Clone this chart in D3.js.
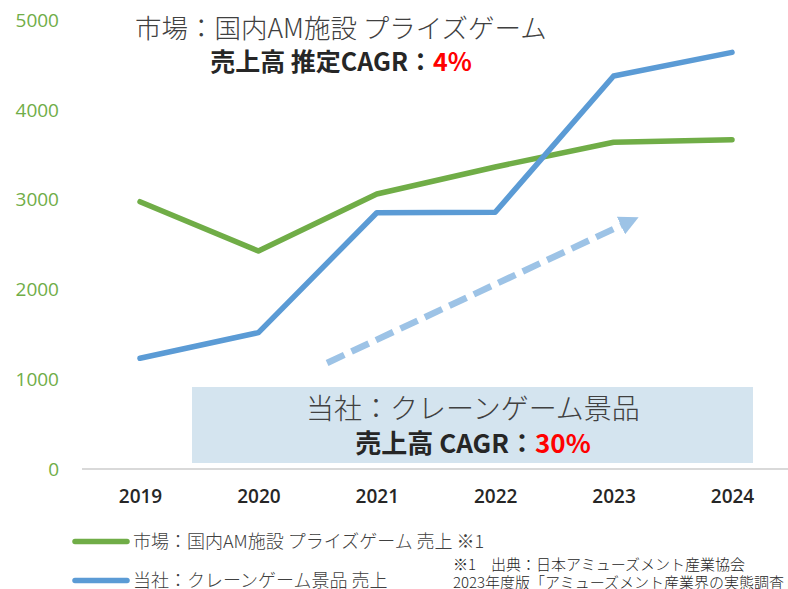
<!DOCTYPE html>
<html>
<head>
<meta charset="utf-8">
<script src="https://cdn.jsdelivr.net/npm/d3@7"></script>
<style>
  body { margin: 0; background: #fff; }
  svg { display: block; font-family: "Noto Sans CJK JP", "Noto Sans", sans-serif; }
</style>
</head>
<body>
<svg id="chart" width="788" height="589"></svg>
<script>
const years = ['2019', '2020', '2021', '2022', '2023', '2024'];
const marketSales = [2980, 2430, 3066, 3367, 3642, 3671];
const companySales = [1234, 1520, 2857, 2862, 4381, 4645];
const yTicks = [0, 1000, 2000, 3000, 4000, 5000];
// arrow annotation in (year index, value) units
const trendArrow = [[1.58, 1182], [4.2, 2798]];

const svg = d3.select('#chart');
const margin = { left: 81, top: 20.5 };
const yBottom = 469;

const x = d3.scalePoint().domain(years).range([140, 732]);
const xi = d3.scaleLinear().domain([0, years.length - 1]).range([140, 732]);
const y = d3.scaleLinear().domain([0, 5000]).range([yBottom, margin.top]);

// axis baseline
svg.append('line')
    .attr('x1', margin.left + 1).attr('x2', 788)
    .attr('y1', y(0)).attr('y2', y(0))
    .attr('stroke', '#d9d9d9').attr('stroke-width', 2);

// y labels
const yAxis = svg.append('g')
    .attr('transform', `translate(59, 0)`)
    .call(d3.axisLeft(y).tickValues(yTicks).tickSize(0).tickPadding(0).tickFormat(d3.format('d')));
yAxis.select('.domain').remove();
yAxis.selectAll('text')
    .attr('fill', '#70ad47')
    .attr('font-size', 19)
    .attr('font-family', '"Open Sans", sans-serif');

// x labels
const xAxis = svg.append('g')
    .attr('transform', `translate(0, ${y(0)})`)
    .call(d3.axisBottom(x).tickSize(0).tickPadding(21));
xAxis.select('.domain').remove();
xAxis.selectAll('text')
    .attr('fill', '#262626')
    .attr('font-size', 19)
    .attr('font-weight', 600)
    .attr('font-family', '"Open Sans", sans-serif');

// CAGR box
svg.append('rect')
    .attr('x', 192).attr('y', 387)
    .attr('width', 561).attr('height', 76)
    .attr('fill', '#d4e4ef');
svg.append('text')
    .attr('x', 473).attr('y', 419)
    .attr('text-anchor', 'middle')
    .attr('font-size', 28).attr('font-weight', 300)
    .attr('fill', '#404040')
    .text('当社：クレーンゲーム景品');
const boxLine2 = svg.append('text')
    .attr('x', 473).attr('y', 453)
    .attr('text-anchor', 'middle')
    .attr('font-size', 26).attr('font-weight', 700)
    .attr('fill', '#262626');
boxLine2.append('tspan').text('売上高 CAGR：');
boxLine2.append('tspan').attr('fill', '#ff0000').text('30%');

// title
svg.append('text')
    .attr('x', 135).attr('y', 38)
    .attr('font-size', 26.5).attr('font-weight', 300)
    .attr('fill', '#404040')
    .text('市場：国内AM施設 プライズゲーム');
const title2 = svg.append('text')
    .attr('x', 341).attr('y', 71)
    .attr('text-anchor', 'middle')
    .attr('font-size', 25).attr('font-weight', 700)
    .attr('fill', '#262626');
title2.append('tspan').text('売上高 推定CAGR：');
title2.append('tspan').attr('fill', '#ff0000').text('4%');

// dashed trend arrow
const defs = svg.append('defs');
defs.append('marker')
    .attr('id', 'arrowHead')
    .attr('viewBox', '0 0 10 10')
    .attr('refX', 3).attr('refY', 5)
    .attr('markerWidth', 3).attr('markerHeight', 3)
    .attr('orient', 'auto')
    .append('path')
    .attr('d', 'M0,0 L10,5 L0,10 Z')
    .attr('fill', '#9dc3e6');
svg.append('line')
    .attr('x1', xi(trendArrow[0][0])).attr('y1', y(trendArrow[0][1]))
    .attr('x2', xi(trendArrow[1][0]) - 11).attr('y2', y(trendArrow[1][1]) + 5)
    .attr('stroke', '#9dc3e6')
    .attr('stroke-width', 6.5)
    .attr('stroke-dasharray', '19 8')
    .attr('marker-end', 'url(#arrowHead)');

// lines
const line = d3.line()
    .x((d, i) => x(years[i]))
    .y(d => y(d));

svg.append('path')
    .datum(marketSales)
    .attr('d', line)
    .attr('fill', 'none')
    .attr('stroke', '#70ad47')
    .attr('stroke-width', 5.5)
    .attr('stroke-linecap', 'round')
    .attr('stroke-linejoin', 'round');

svg.append('path')
    .datum(companySales)
    .attr('d', line)
    .attr('fill', 'none')
    .attr('stroke', '#5b9bd5')
    .attr('stroke-width', 5.5)
    .attr('stroke-linecap', 'round')
    .attr('stroke-linejoin', 'round');

// legend
const legendItems = [
    { label: '市場：国内AM施設 プライズゲーム 売上 ※1', color: '#70ad47', y: 541.5 },
    { label: '当社：クレーンゲーム景品 売上', color: '#5b9bd5', y: 580.5 }
];
const legend = svg.append('g')
    .selectAll('g')
    .data(legendItems)
    .enter()
    .append('g')
    .attr('transform', d => `translate(0, ${d.y})`);
legend.append('line')
    .attr('x1', 75).attr('x2', 127)
    .attr('stroke', d => d.color)
    .attr('stroke-width', 5.5)
    .attr('stroke-linecap', 'round');
legend.append('text')
    .attr('x', 133).attr('dy', '0.36em')
    .attr('font-size', 18).attr('font-weight', 300)
    .attr('fill', '#404040')
    .text(d => d.label);

// source note
const note = svg.append('text')
    .attr('font-size', 15).attr('font-weight', 300)
    .attr('fill', '#262626');
note.append('tspan').attr('x', 453).attr('y', 570).text('※1　出典：日本アミューズメント産業協会');
note.append('tspan').attr('x', 453).attr('y', 588).text('2023年度版「アミューズメント産業界の実態調査」');
</script>
</body>
</html>
